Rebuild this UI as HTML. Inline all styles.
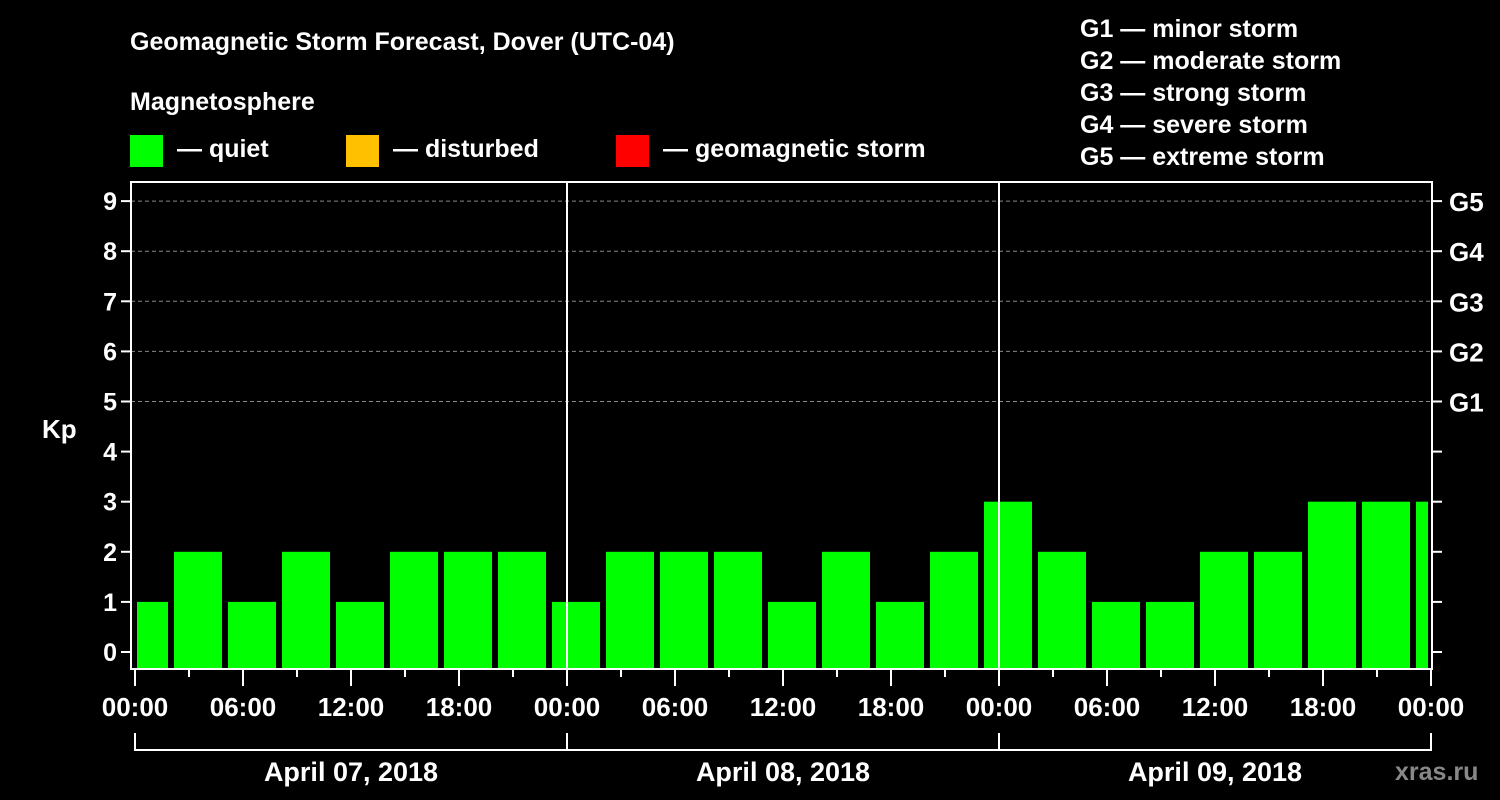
<!DOCTYPE html>
<html><head><meta charset="utf-8"><style>
body{margin:0;background:#000;}
svg{display:block;font-family:"Liberation Sans",sans-serif;font-weight:bold;fill:#fff;}
</style></head><body>
<svg width="1500" height="800" viewBox="0 0 1500 800">
<rect width="1500" height="800" fill="#000"/>
<text x="130" y="50" font-size="25">Geomagnetic Storm Forecast, Dover (UTC-04)</text>
<text x="130" y="110" font-size="25">Magnetosphere</text>
<g><rect x="130" y="135" width="33" height="32" fill="#00ff00"/><text x="177" y="157" font-size="25">— quiet</text></g>
<g><rect x="346" y="135" width="33" height="32" fill="#ffc000"/><text x="393" y="157" font-size="25">— disturbed</text></g>
<g><rect x="616" y="135" width="33" height="32" fill="#ff0000"/><text x="663" y="157" font-size="25">— geomagnetic storm</text></g>
<g font-size="25">
<text x="1080" y="37">G1 — minor storm</text>
<text x="1080" y="69">G2 — moderate storm</text>
<text x="1080" y="101">G3 — strong storm</text>
<text x="1080" y="133">G4 — severe storm</text>
<text x="1080" y="165">G5 — extreme storm</text>
</g>
<text x="42" y="438" font-size="26">Kp</text>
<g id="grid"></g><g id="bars"></g><g id="axes"></g>
<text x="1395" y="780" font-size="25" fill="#888" style="fill:#888">xras.ru</text>
</svg>
<script>
const kpValues=[1,2,1,2,1,2,2,2,1,2,2,2,1,2,1,2,3,2,1,1,2,2,3,3,3];
const barStartHours=[-1,2,5,8,11,14,17,20,23,26,29,32,35,38,41,44,47,50,53,56,59,62,65,68,71];
const yTicks=[0,1,2,3,4,5,6,7,8,9];
const gLabels=["G1","G2","G3","G4","G5"];
const xTickLabels=["00:00","06:00","12:00","18:00","00:00","06:00","12:00","18:00","00:00","06:00","12:00","18:00","00:00"];
const dayLabels=["April 07, 2018","April 08, 2018","April 09, 2018"];
const NS="http://www.w3.org/2000/svg";
const L=131,R=1432,T=182,B=669;
const x=h=>135+h*18;
const y=v=>652-v*50.1;
function mk(tag,attrs,parent,text){const e=document.createElementNS(NS,tag);for(const k in attrs)e.setAttribute(k,attrs[k]);if(text!==undefined)e.textContent=text;parent.appendChild(e);return e;}
const grid=document.getElementById('grid'),bars=document.getElementById('bars'),axes=document.getElementById('axes');
yTicks.forEach(v=>{
  if(v>=5){const g=mk('line',{x1:L,x2:R,y1:y(v),y2:y(v),stroke:'#888','stroke-dasharray':'4,3','stroke-width':1},grid);
  
  }
  const t=mk('line',{x1:L-10,x2:L,y1:y(v),y2:y(v),stroke:'#fff','stroke-width':2},axes);
  
  
  const t2=mk('line',{x1:R,x2:R+10,y1:y(v),y2:y(v),stroke:'#fff','stroke-width':2},axes);
  
  
  const lb=mk('text',{x:L-14,y:y(v)+9,'font-size':25,'text-anchor':'end'},axes,String(v));
  
  
});
gLabels.forEach((g,i)=>{
  const lb=mk('text',{x:1449,y:y(i+5)+10,'font-size':26},axes,g);
  
  
});
kpValues.forEach((v,i)=>{
  let x0=x(barStartHours[i])+3,x1=x(barStartHours[i]+3)-3;
  x0=Math.max(x0,137);x1=Math.min(x1,1428);
  const b=mk('rect',{x:x0,y:y(v),width:x1-x0,height:B-y(v),fill:v>=5?'#ff0000':(v>=4?'#ffc000':'#00ff00')},bars);
  
  
});
[1,2].forEach(d=>{const l=mk('line',{x1:x(d*24),x2:x(d*24),y1:T,y2:B,stroke:'#fff','stroke-width':2},axes);
  
  });
const box=mk('rect',{x:L,y:T,width:R-L,height:B-T,fill:'none',stroke:'#fff','stroke-width':2},axes);


for(let h=0;h<=72;h+=3){const major=h%6===0;
  const t=mk('line',{x1:x(h),x2:x(h),y1:B,y2:major?686:677,stroke:'#fff','stroke-width':2},axes);
  
  }
xTickLabels.forEach((s,i)=>{const lb=mk('text',{x:x(i*6),y:716,'font-size':26,'text-anchor':'middle'},axes,s);
  
  });
mk('path',{d:`M${x(0)} 733V750H${x(72)}V733`,fill:'none',stroke:'#fff','stroke-width':2},axes);
[1,2].forEach(d=>{const l=mk('line',{x1:x(d*24),x2:x(d*24),y1:733,y2:750,stroke:'#fff','stroke-width':2},axes);
  
  });
dayLabels.forEach((s,i)=>{const lb=mk('text',{x:x(i*24+12),y:781,'font-size':27,'text-anchor':'middle'},axes,s);
  
  });
</script>
</body></html>
